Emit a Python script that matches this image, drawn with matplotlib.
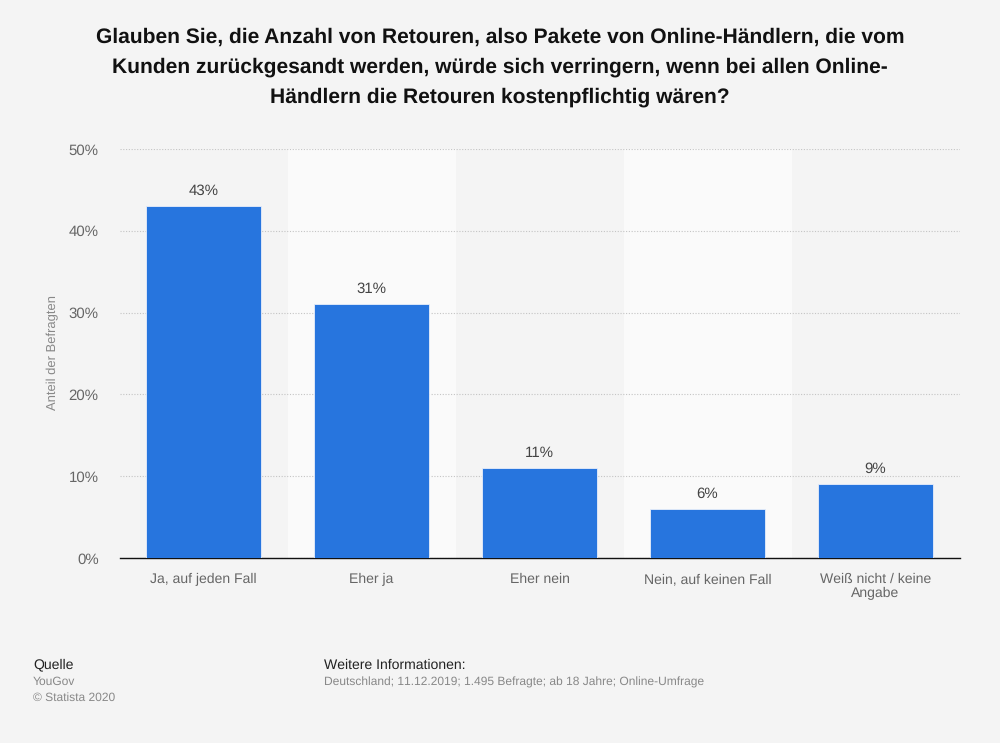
import matplotlib
matplotlib.use('Agg')
import matplotlib.pyplot as plt

plt.rcParams['font.family'] = ['Liberation Sans', 'DejaVu Sans']
plt.rcParams['text.hinting'] = 'no_hinting'
plt.rcParams['text.hinting_factor'] = 1

categories = ['Ja, auf jeden Fall', 'Eher ja', 'Eher nein', 'Nein, auf keinen Fall', 'Weiß nicht / keine\nAngabe']
values = [43, 31, 11, 6, 9]
labels = ['43%', '31%', '11%', '6%', '9%']
yticks = [0, 10, 20, 30, 40, 50]

title = ('Glauben Sie, die Anzahl von Retouren, also Pakete von Online-Händlern, die vom\n'
         'Kunden zurückgesandt werden, würde sich verringern, wenn bei allen Online-\n'
         'Händlern die Retouren kostenpflichtig wären?')

bg = '#f4f4f4'
fig = plt.figure(figsize=(10, 7.43), dpi=100, facecolor=bg)
ax = fig.add_axes([119.5/1000, 1-558/743, 840/1000, 409/743], facecolor=bg)

for i in [1, 3]:
    ax.axvspan(i-0.5, i+0.5, color='#fafafa', lw=0, zorder=0)

ax.yaxis.grid(True, color='#c4c4c4', linestyle=(0, (1, 1.5)), linewidth=0.8)
ax.set_axisbelow(True)
bars = ax.bar(range(5), values, width=0.69, color='#2775de', edgecolor='#e8eefa', linewidth=0.6, zorder=3)

for rect, lab in zip(bars, labels):
    ax.annotate(lab, (rect.get_x() + rect.get_width()/2, rect.get_height()),
                xytext=(0, 6), textcoords='offset points', ha='center', va='bottom',
                fontsize=10.6, color='#444444')

ax.set_xlim(-0.5, 4.5)
ax.set_ylim(0, 50)
ax.set_yticks(yticks)
ax.set_yticklabels(['%d%%' % t for t in yticks], fontsize=10.6, color='#666666')
ax.set_xticks(range(5))
ax.set_xticklabels(categories, fontsize=10.3, color='#666666', linespacing=1.15)
ax.tick_params(axis='both', length=0)
ax.tick_params(axis='x', pad=10.5)
ax.tick_params(axis='y', pad=15)
for s in ['top', 'left', 'right']:
    ax.spines[s].set_visible(False)
ax.spines['bottom'].set_color('#111111')
ax.spines['bottom'].set_linewidth(1.0)

fig.text(53/1000, 1-353/743, 'Anteil der Befragten', rotation=90, ha='center', va='center',
         fontsize=9.2, color='#888888')
fig.text(500/1000, 1-67/743, title, ha='center', va='center', fontsize=15.2,
         fontweight='bold', color='#111111', linespacing=1.68)

fig.text(33/1000, 1-665/743, 'Quelle', ha='left', va='center', fontsize=9.8, color='#222222')
fig.text(33/1000, 1-682/743, 'YouGov', ha='left', va='center', fontsize=8.9, color='#888888')
fig.text(33/1000, 1-698/743, '© Statista 2020', ha='left', va='center', fontsize=8.9, color='#888888')
fig.text(324/1000, 1-665/743, 'Weitere Informationen:', ha='left', va='center', fontsize=10, color='#222222')
fig.text(324/1000, 1-682/743, 'Deutschland; 11.12.2019; 1.495 Befragte; ab 18 Jahre; Online-Umfrage',
         ha='left', va='center', fontsize=8.95, color='#888888')

fig.savefig('out.png', dpi=100, facecolor=bg)
